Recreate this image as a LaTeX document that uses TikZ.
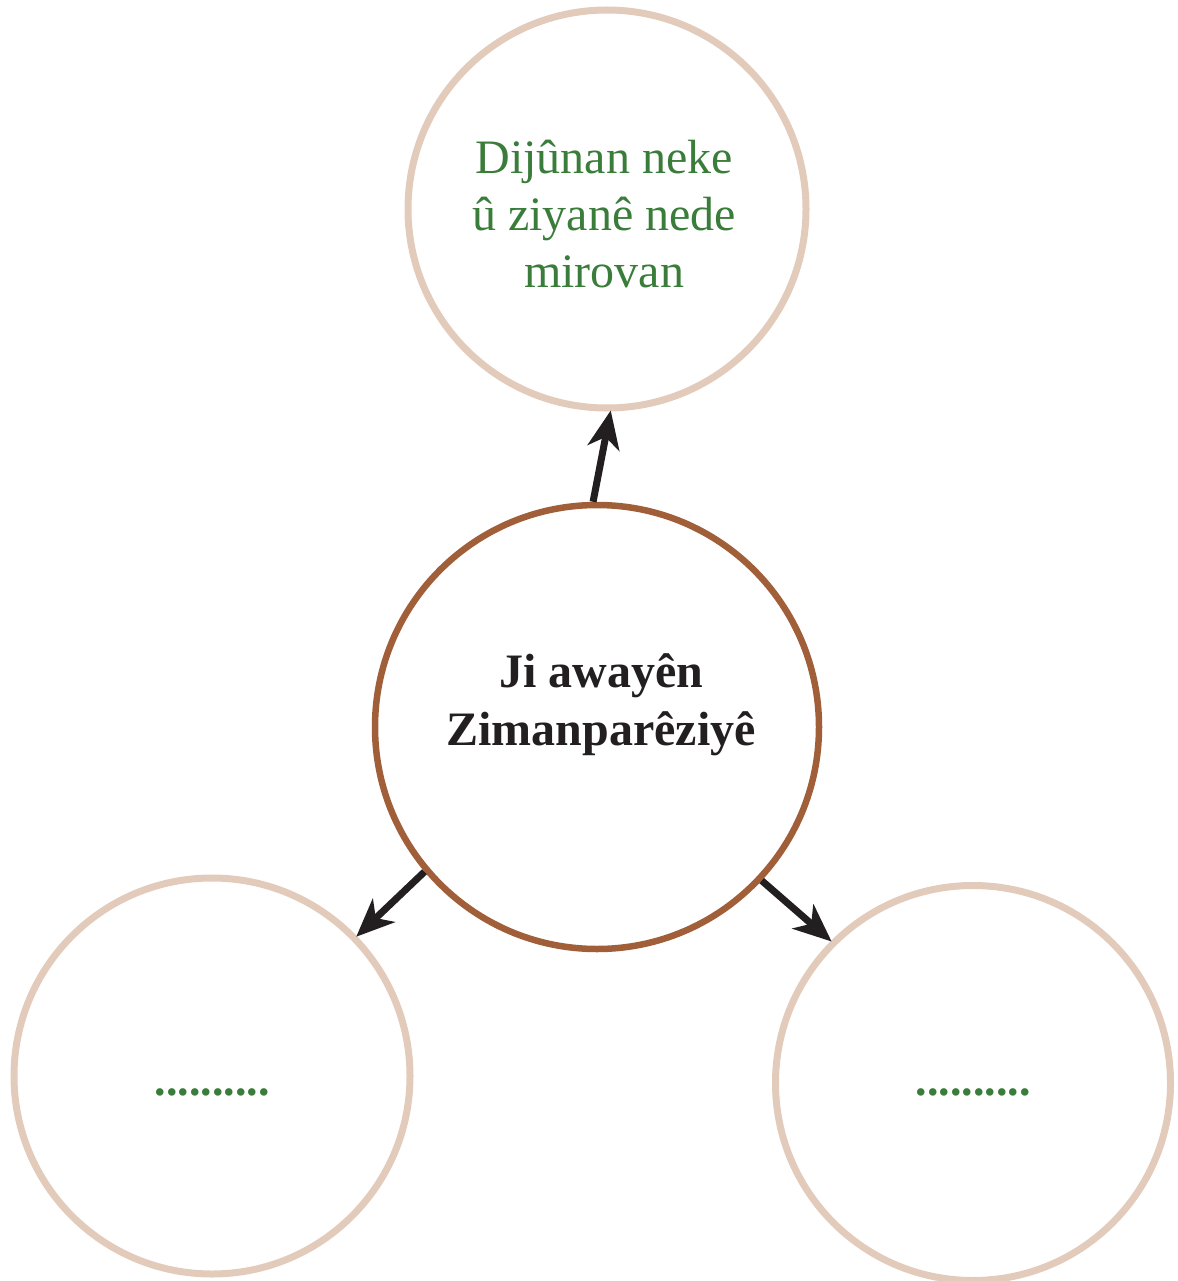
\documentclass[tikz,border=0pt]{standalone}
\usepackage{fontspec}
\setmainfont{Liberation Serif}
\usetikzlibrary{arrows.meta}
\definecolor{ringc}{HTML}{E2CBBB}
\definecolor{mainc}{HTML}{A05F38}
\definecolor{txtg}{HTML}{3A7D3A}
\definecolor{arrc}{HTML}{231F20}
\tikzset{
  outer/.style={circle, draw=ringc, line width=7pt, inner sep=0pt, align=center, text=txtg, font=\fontsize{48}{57}\selectfont},
  central/.style={circle, draw=mainc, line width=6.5pt, minimum size=444pt, inner sep=0pt, align=center, text=arrc, font=\fontsize{48}{58}\selectfont\bfseries},
  conn/.style={draw=arrc, line width=7pt, -{Stealth[length=38pt,width=32pt,inset=11pt]}, shorten >=-1pt},
  dotsy/.style={font=\fontsize{46}{50}\selectfont\bfseries}
}
\begin{document}
\begin{tikzpicture}[x=1pt,y=-1pt]
\useasboundingbox (0,0) rectangle (1177,1281);
\node[outer, minimum size=398pt] (top) at (607,209) {\raisebox{-16pt}[0pt][0pt]{\begin{tabular}{@{}c@{}}Dijûnan neke\\û ziyanê nede\\mirovan\end{tabular}}\hspace*{6pt}};
\node[central] (c) at (597,727) {\hspace*{8pt}\raisebox{15.5pt}[0pt][0pt]{\begin{tabular}{@{}c@{}}Ji awayên\\Zimanparêziyê\end{tabular}}};
\node[outer, dotsy, minimum size=396pt] (bl) at (212,1076) {\raisebox{-19pt}[0pt][0pt]{..........}};
\node[outer, dotsy, minimum size=395pt] (br) at (973,1083) {\raisebox{-12pt}[0pt][0pt]{..........}};
\draw[conn] (c.91) -- (top.271);
\draw[conn] (c.220) -- (bl.44);
\draw[conn] (c.317) -- (br.135);
\end{tikzpicture}
\end{document}
